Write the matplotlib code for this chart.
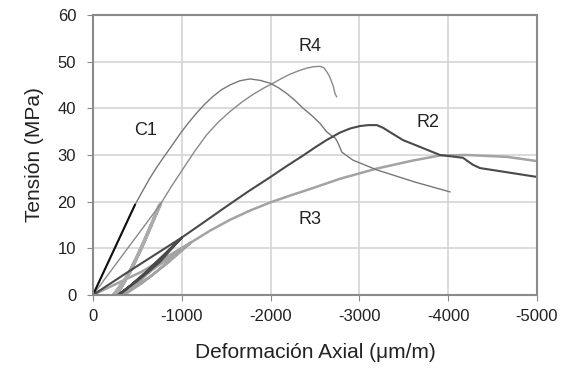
import matplotlib
matplotlib.use("Agg")
import matplotlib.pyplot as plt

plt.rcParams['font.family'] = ['Liberation Sans', 'DejaVu Sans']
plt.rcParams['axes.unicode_minus'] = False

# C1 (thin gray, first part darker)
c1_x = [0, -473, -560, -640, -720, -792, -900, -999, -1085, -1168, -1260, -1355, -1450,
        -1543, -1655, -1768, -1880, -1993, -2090, -2181, -2275, -2368, -2462, -2556,
        -2631, -2703, -2730, -2759, -2804, -2928, -3198, -3626, -4020]
c1_y = [0, 19.3, 22.3, 25.0, 27.4, 29.4, 32.3, 35.0, 37.1, 39.0, 40.9, 42.6, 44.0,
        45.0, 45.9, 46.3, 46.0, 45.4, 44.4, 43.2, 41.7, 40.0, 38.5, 36.8,
        35.0, 33.9, 33.6, 32.6, 30.6, 28.9, 26.8, 24.2, 22.1]
c1_start_x = [0, -473]
c1_start_y = [0, 19.3]

# R4 envelope and load cycles
r4_x = [0, -755, -885, -1017, -1150, -1280, -1410, -1543, -1675, -1805, -1920, -2030,
        -2125, -2218, -2310, -2406, -2480, -2556, -2600, -2631, -2660, -2688, -2710,
        -2725, -2744]
r4_y = [0, 19.3, 23.3, 27.1, 30.9, 34.3, 37.0, 39.3, 41.3, 43.0, 44.3, 45.4,
        46.4, 47.3, 48.0, 48.6, 48.9, 49.0, 48.7, 47.9, 47.0, 45.7, 44.5,
        43.2, 42.5]
r4_loop_x = [-760, -620, -450, -300, -230, -400, -580, -760, -600, -420, -280, -360, -560, -740]
r4_loop_y = [19.5, 13.5, 6.0, 1.0, 0, 4.5, 11.5, 19.5, 12.5, 5.0, 0.5, 3.0, 10.5, 19.0]

# R2 cycles + envelope
r2_x = [0, -400, -1000, -850, -650, -420, -280, -500, -750, -1000, -800, -550, -330,
        -600, -1000, -1250, -1505, -1750, -1993, -2180, -2368, -2500, -2631, -2782,
        -2900, -3007, -3100, -3198, -3270, -3345, -3491, -3700, -3908, -4167,
        -4279, -4358, -5000]
r2_y = [0, 5.0, 12.3, 9.5, 5.5, 2.0, 0, 3.0, 7.0, 12.3, 8.5, 4.0, 0.5,
        5.0, 12.3, 15.6, 19.0, 22.2, 25.2, 27.6, 29.9, 31.6, 33.2, 34.8,
        35.7, 36.2, 36.4, 36.4, 35.8, 34.9, 33.2, 31.6, 30.0, 29.4,
        27.9, 27.2, 25.3]

# R3 cycles + envelope
r3_x = [0, -550, -1100, -900, -650, -400, -300, -600, -900, -1100, -850, -550, -350,
        -700, -1100, -1320, -1543, -1770, -1993, -2220, -2444, -2782, -3198, -3600,
        -3908, -4212, -4662, -5000]
r3_y = [0, 5.0, 11.2, 8.0, 4.0, 1.0, 0, 4.5, 8.5, 11.2, 7.0, 2.5, 0,
        6.0, 11.2, 13.8, 16.1, 18.1, 19.8, 21.3, 22.7, 24.9, 27.1, 28.8,
        29.9, 30.0, 29.6, 28.7]

x_ticks = [0, -1000, -2000, -3000, -4000, -5000]
y_ticks = [0, 10, 20, 30, 40, 50, 60]

fig = plt.figure(figsize=(5.7, 3.81), dpi=100)
ax = fig.add_axes([0.163, 0.2257, 0.779, 0.735])

ax.plot(r3_x, r3_y, color='#a3a3a3', lw=1.8, solid_joinstyle='round')
ax.plot(r4_loop_x, r4_loop_y, color='#acacac', lw=2.2, solid_joinstyle='round')
ax.plot(r4_x, r4_y, color='#8a8a8a', lw=1.0)
ax.plot(c1_x, c1_y, color='#777777', lw=1.0)
ax.plot(c1_start_x, c1_start_y, color='#111111', lw=1.5)
ax.plot(r2_x, r2_y, color='#4a4a4a', lw=1.5, solid_joinstyle='round')

ax.text(-591, 35.2, 'C1', fontsize=13, ha='center', va='center', color='#222222')
ax.text(-2449, 53.2, 'R4', fontsize=13, ha='center', va='center', color='#222222')
ax.text(-3773, 37.0, 'R2', fontsize=13, ha='center', va='center', color='#222222')
ax.text(-2444, 16.1, 'R3', fontsize=13, ha='center', va='center', color='#222222')

ax.set_xlim(0, -5000)
ax.set_ylim(0, 60)
ax.set_xticks(x_ticks)
ax.set_yticks(y_ticks)
ax.grid(True, color='#d4d4d4', lw=1.2)
ax.set_axisbelow(True)
for s in ax.spines.values():
    s.set_color('#8a8a8a')
    s.set_linewidth(1.5)
ax.tick_params(axis='both', colors='#8a8a8a', labelcolor='#222222', labelsize=12, length=4)
ax.tick_params(axis='y', pad=8)
ax.tick_params(axis='x', pad=6)

ax.set_xlabel('Deformación Axial (\u03bcm/m)', fontsize=15, color='#222222', labelpad=14)
ax.set_ylabel('Tensión (MPa)', fontsize=15, color='#222222', labelpad=10)

fig.savefig('out.png', dpi=100)
